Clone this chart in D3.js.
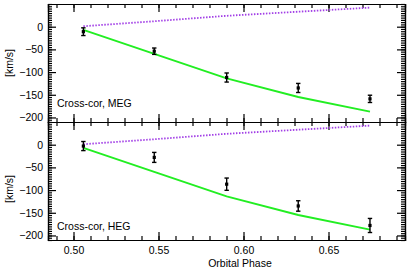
<!DOCTYPE html>
<html lang="en">
<head>
<meta charset="UTF-8">
<title>Cross-cor MEG / HEG</title>
<script src="https://d3js.org/d3.v7.min.js"></script>
<style>
    body { margin: 0; background: #fff; }
    svg { display: block; font-family: "Liberation Sans", Arial, sans-serif; }
    .axis path, .axis line { stroke: #000; stroke-width: 1.2; }
    .axis text { font-size: 10.5px; fill: #000; }
</style>
</head>
<body>
<svg width="409" height="268"></svg>
<script>
// data
const phase = [0.5058, 0.5475, 0.5901, 0.6322, 0.6744];
const megVel = [-11, -54, -112, -135, -159];
const megErr = [8.5, 7, 10, 10, 8];
const hegVel = [-3, -28, -87, -135, -178];
const hegErr = [10, 11, 13.5, 11.5, 15.5];
const modelVel = [-7, -60, -114, -155, -187];   // green solid line
const otherVel = [1, 12, 24, 33, 42];           // purple dotted line
const yTicks = [0, -50, -100, -150, -200];
const xTicks = [0.50, 0.55, 0.60, 0.65];

const svg = d3.select("svg");
const left = 48, right = 405;

const x = d3.scaleLinear().domain([0.485, 0.695]).range([left, right]);

const panels = [
    { top: 4, bottom: 122, vel: megVel, err: megErr, label: "Cross-cor, MEG", labelY: 107, showX: false },
    { top: 122, bottom: 240, vel: hegVel, err: hegErr, label: "Cross-cor, HEG", labelY: 230, showX: true }
];

const minus = s => s.replace("-", "\u2212");
const xMinor = d3.range(0.49, 0.6951, 0.01);
const yMinor = d3.range(-210, 50.1, 5);

panels.forEach(p => {
    const y = d3.scaleLinear().domain([-210, 50]).range([p.bottom, p.top]);
    const g = svg.append("g");

    // minor ticks
    g.append("g").attr("class", "axis").attr("transform", `translate(0,${p.bottom})`)
        .call(d3.axisBottom(x).tickValues(xMinor).tickSize(-4).tickFormat(""));
    g.append("g").attr("class", "axis").attr("transform", `translate(0,${p.top})`)
        .call(d3.axisTop(x).tickValues(xMinor).tickSize(-4).tickFormat(""));
    g.append("g").attr("class", "axis").attr("transform", `translate(${left},0)`)
        .call(d3.axisLeft(y).tickValues(yMinor).tickSize(-4).tickFormat(""));
    g.append("g").attr("class", "axis").attr("transform", `translate(${right},0)`)
        .call(d3.axisRight(y).tickValues(yMinor).tickSize(-4).tickFormat(""));

    // major ticks
    g.append("g").attr("class", "axis").attr("transform", `translate(0,${p.bottom})`)
        .call(d3.axisBottom(x).tickValues(xTicks).tickSize(-8).tickPadding(7)
            .tickFormat(p.showX ? d3.format(".2f") : ""));
    g.append("g").attr("class", "axis").attr("transform", `translate(0,${p.top})`)
        .call(d3.axisTop(x).tickValues(xTicks).tickSize(-8).tickFormat(""));
    g.append("g").attr("class", "axis").attr("transform", `translate(${left},0)`)
        .call(d3.axisLeft(y).tickValues(yTicks).tickSize(-8).tickPadding(5)
            .tickFormat(d => minus(String(d))));
    g.append("g").attr("class", "axis").attr("transform", `translate(${right},0)`)
        .call(d3.axisRight(y).tickValues(yTicks).tickSize(-8).tickFormat(""));

    g.selectAll(".axis .domain").attr("stroke-width", 1.4);

    // model lines
    const line = d3.line().x((d, i) => x(phase[i])).y(d => y(d));
    g.append("path").datum(otherVel).attr("d", line)
        .attr("fill", "none").attr("stroke", "#a23fe6").attr("stroke-width", 1.8)
        .attr("stroke-dasharray", "1.5,1.5");
    g.append("path").datum(modelVel).attr("d", line)
        .attr("fill", "none").attr("stroke", "#22ee22").attr("stroke-width", 1.9);

    // error bars
    const pts = phase.map((ph, i) => ({ ph, v: p.vel[i], e: p.err[i] }));
    const eb = g.selectAll(".eb").data(pts).enter().append("g");
    eb.append("line")
        .attr("x1", d => x(d.ph)).attr("x2", d => x(d.ph))
        .attr("y1", d => y(d.v + d.e)).attr("y2", d => y(d.v - d.e))
        .attr("stroke", "#000").attr("stroke-width", 1.4);
    [1, -1].forEach(s => {
        eb.append("line")
            .attr("x1", d => x(d.ph) - 2.2).attr("x2", d => x(d.ph) + 2.2)
            .attr("y1", d => y(d.v + s * d.e)).attr("y2", d => y(d.v + s * d.e))
            .attr("stroke", "#000").attr("stroke-width", 1.4);
    });
    eb.append("rect")
        .attr("x", d => x(d.ph) - 1.6).attr("y", d => y(d.v) - 1.6)
        .attr("width", 3.2).attr("height", 3.2).attr("fill", "#000");

    g.append("text").attr("x", 57).attr("y", p.labelY)
        .attr("font-size", 10.5).text(p.label);

    g.append("text")
        .attr("transform", `translate(13,${(p.top + p.bottom) / 2 + (p.showX ? 8 : 0)}) rotate(-90)`)
        .attr("text-anchor", "middle").attr("font-size", 10.5).text("[km/s]");
});

svg.append("text").attr("x", 240).attr("y", 267).attr("text-anchor", "middle")
    .attr("font-size", 10.5).text("Orbital Phase");
</script>
</body>
</html>
